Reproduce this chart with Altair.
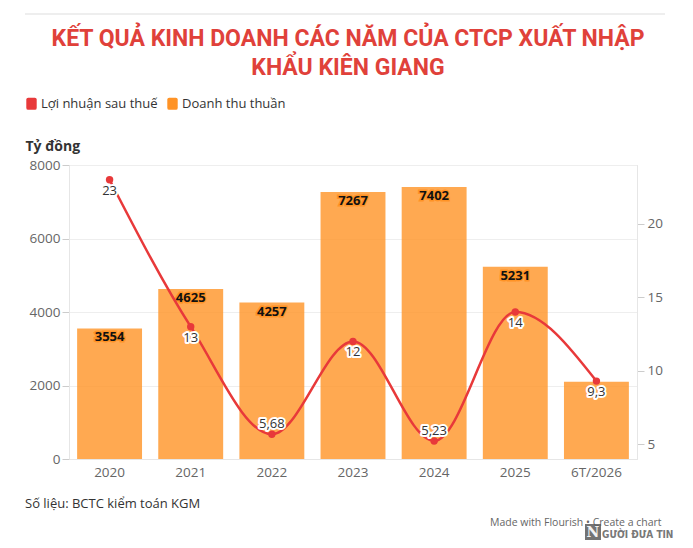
import altair as alt
import pandas as pd

years = ["2020", "2021", "2022", "2023", "2024", "2025", "6T/2026"]
revenue = [3554, 4625, 4257, 7267, 7402, 5231, 2100]
revenue_labels = ["3554", "4625", "4257", "7267", "7402", "5231", ""]
profit = [23, 13, 5.68, 12, 5.23, 14, 9.3]
profit_labels = ["23", "13", "5,68", "12", "5,23", "14", "9,3"]

S_REV = "Doanh thu thuần"
S_PROF = "Lợi nhuận sau thuế"
title_lines = ["KẾT QUẢ KINH DOANH CÁC NĂM CỦA CTCP XUẤT NHẬP", "KHẨU KIÊN GIANG"]
source_text = "Số liệu: BCTC kiểm toán KGM"
credit_text = "Made with Flourish • Create a chart"
logo_n = "N"
logo_text = "GƯỜI ĐƯA TIN"

RED = "#E8393A"
ORANGE = "#FF9326"
FONT = "Open Sans"

df = pd.DataFrame({
    "year": years,
    "revenue": revenue,
    "rev_label": revenue_labels,
    "profit": profit,
    "prof_label": profit_labels,
})

color_scale = alt.Scale(domain=[S_PROF, S_REV], range=[RED, ORANGE])
rounded = ("M-0.55,-1 L0.55,-1 Q0.85,-1 0.85,-0.7 L0.85,0.7 Q0.85,1 0.55,1 "
           "L-0.55,1 Q-0.85,1 -0.85,0.7 L-0.85,-0.7 Q-0.85,-1 -0.55,-1 Z")
legend = alt.Legend(
    title=None, orient="none", legendX=-44, legendY=-68, direction="horizontal",
    symbolType=rounded, symbolSize=150, symbolOpacity=1, symbolStrokeWidth=0,
    labelFont=FONT, labelFontSize=13, labelColor="#333", labelOffset=3,
    columnPadding=8, symbolOffset=0, padding=0,
)

x_enc = alt.X("year:N", sort=years, title=None,
              scale=alt.Scale(paddingInner=0.2, paddingOuter=0.1),
              axis=alt.Axis(labelAngle=0, ticks=False, domainColor="#e6e6e6",
                            labelColor="#666", labelFont=FONT, labelFontSize=13.5,
                            labelPadding=6))

y_left = alt.Y("revenue:Q", scale=alt.Scale(domain=[0, 8000]),
               axis=alt.Axis(orient="left", values=[0, 2000, 4000, 6000, 8000],
                             format="d",
                             title="Tỷ đồng", titleAngle=0, titleX=-44, titleY=-15,
                             titleAlign="left", titleBaseline="alphabetic",
                             titleFont=FONT, titleFontSize=14, titleFontWeight="bold",
                             titleColor="#333", grid=True, gridColor="#eeeeee",
                             domainColor="#e6e6e6", tickColor="#cccccc", tickSize=7,
                             labelColor="#666", labelFont=FONT, labelFontSize=13.5,
                             labelPadding=2))

base = alt.Chart(df)

bars = base.mark_bar(opacity=0.8).encode(
    x=x_enc, y=y_left,
    color=alt.Color("s:N", scale=color_scale, legend=legend),
).transform_calculate(s=f"'{S_REV}'")

bar_halo = base.mark_text(baseline="middle", dy=9, fontSize=13, fontWeight="bold",
                          font=FONT, stroke=ORANGE, strokeWidth=3, fill=ORANGE).encode(
    x=alt.X("year:N", sort=years), y="revenue:Q", text="rev_label:N")
bar_text = base.mark_text(baseline="middle", dy=9, fontSize=13, fontWeight="bold",
                          font=FONT, fill="#111").encode(
    x=alt.X("year:N", sort=years), y="revenue:Q", text="rev_label:N")

left = alt.layer(bars, bar_halo, bar_text)

y_right = alt.Y("profit:Q", scale=alt.Scale(domain=[4, 24]),
                axis=alt.Axis(orient="right", values=[5, 10, 15, 20], title=None,
                              grid=False, domainColor="#e6e6e6", tickColor="#cccccc",
                              tickSize=7, labelColor="#666", labelFont=FONT,
                              labelFontSize=13.5, labelPadding=3))

line = base.mark_line(color=RED, strokeWidth=2.5, interpolate="monotone").encode(
    x=alt.X("year:N", sort=years), y=y_right)
pts = base.mark_circle(size=55, opacity=1).encode(
    x=alt.X("year:N", sort=years), y="profit:Q",
    color=alt.Color("s:N", scale=color_scale, legend=legend),
).transform_calculate(s=f"'{S_PROF}'")

def plabels(filt, dy):
    halo = base.mark_text(baseline="middle", dy=dy, fontSize=13, font=FONT,
                          stroke="white", strokeWidth=4, fill="white",
                          strokeJoin="round").encode(
        x=alt.X("year:N", sort=years), y="profit:Q", text="prof_label:N"
    ).transform_filter(filt)
    txt = base.mark_text(baseline="middle", dy=dy, fontSize=13, font=FONT,
                         fill="#333").encode(
        x=alt.X("year:N", sort=years), y="profit:Q", text="prof_label:N"
    ).transform_filter(filt)
    return [halo, txt]

right = alt.layer(line, pts, *plabels("datum.profit >= 8", 11),
                  *plabels("datum.profit < 8", -10))

one = pd.DataFrame({"k": [0]})
deco = alt.Chart(one)
top_rule = deco.mark_rule(color="#dddddd", strokeWidth=1).encode(
    x=alt.value(-44), x2=alt.value(596), y=alt.value(-151))
t1 = deco.mark_text(align="center", baseline="alphabetic", font="Roboto",
                    fontSize=23, fontWeight="bold", color="#E0413A").encode(
    x=alt.value(279), y=alt.value(-119), text=alt.value(title_lines[0]))
t2 = deco.mark_text(align="center", baseline="alphabetic", font="Roboto",
                    fontSize=23, fontWeight="bold", color="#E0413A").encode(
    x=alt.value(279), y=alt.value(-90), text=alt.value(title_lines[1]))
src = deco.mark_text(align="left", baseline="alphabetic", font=FONT, fontSize=13,
                     color="#333").encode(
    x=alt.value(-44), y=alt.value(343), text=alt.value(source_text))
credit = deco.mark_text(align="left", baseline="alphabetic", font=FONT, fontSize=10.5,
                        color="#666").encode(
    x=alt.value(421), y=alt.value(361), text=alt.value(credit_text))
logo_box = deco.mark_rect(color="#5a5a5a", opacity=0.85).encode(
    x=alt.value(516), x2=alt.value(532), y=alt.value(359), y2=alt.value(375))
logo_nt = deco.mark_text(align="center", baseline="alphabetic", font="DejaVu Serif",
                         fontSize=14, fontWeight="bold", color="#f2f2f2").encode(
    x=alt.value(524), y=alt.value(372), text=alt.value(logo_n))
logo_tt = deco.mark_text(align="left", baseline="alphabetic", font="DejaVu Sans Condensed",
                         fontSize=10, fontWeight="bold", color="#6a6a6a", opacity=0.9).encode(
    x=alt.value(533), y=alt.value(373), text=alt.value(logo_text))

chart = alt.layer(left, right, top_rule, t1, t2, src, credit,
                  logo_box, logo_nt, logo_tt).resolve_scale(
    y="independent"
).properties(
    width=568, height=294,
    autosize=alt.AutoSizeParams(type="none"),
    padding={"left": 61, "top": 157, "right": 48, "bottom": 86},
).configure_view(stroke=None).configure(background="white")

chart.save("out.html", embed_options={"renderer": "svg", "actions": False})
